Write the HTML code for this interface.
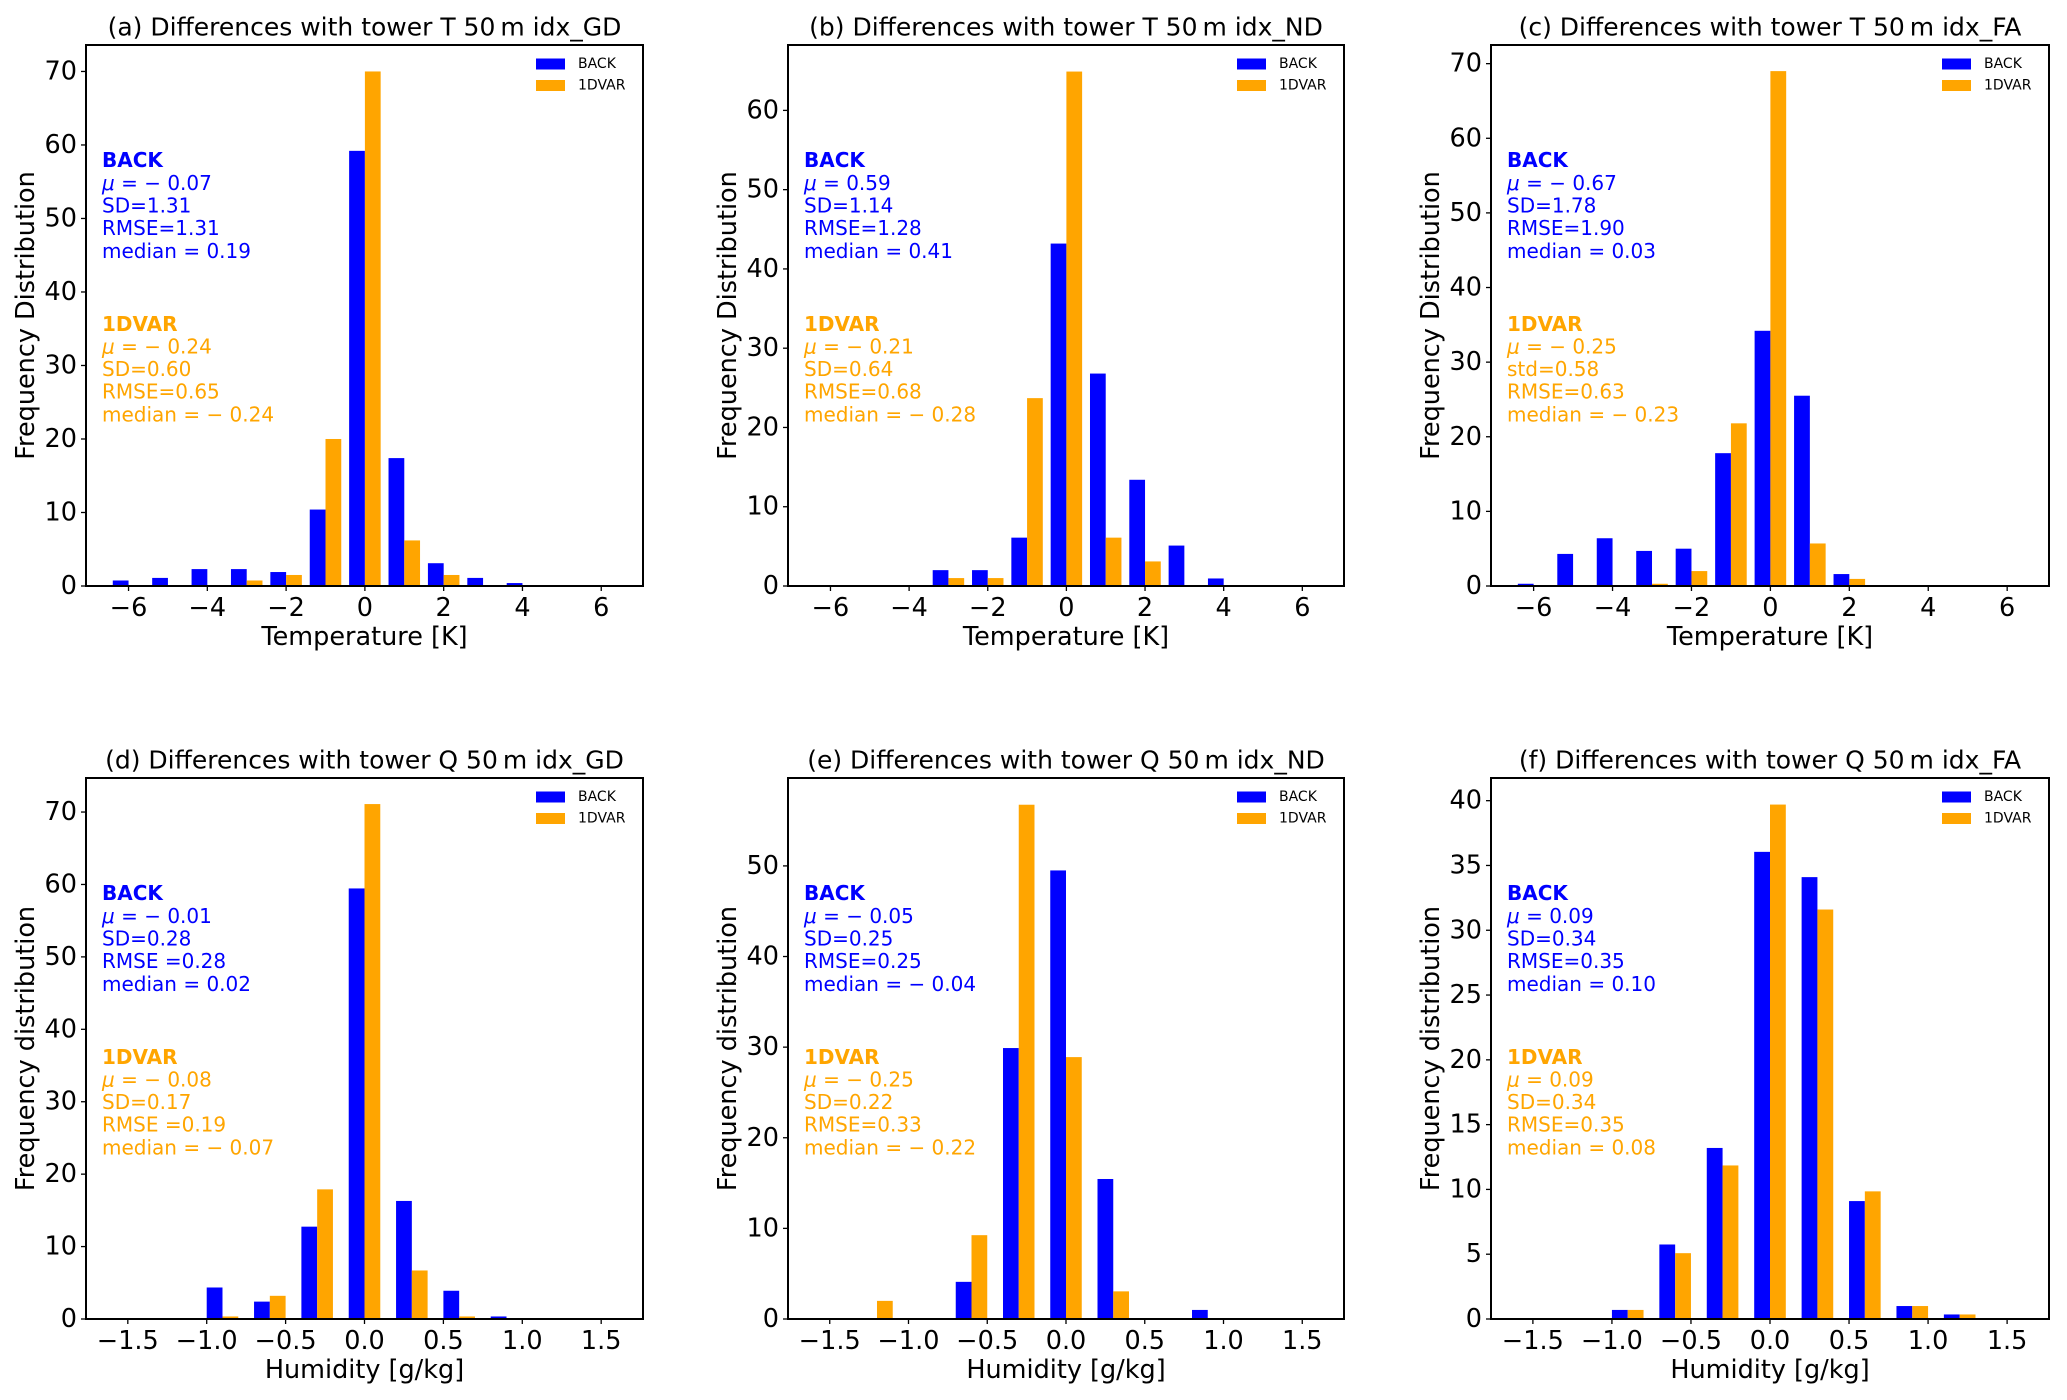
<!DOCTYPE html>
<html><head><meta charset="utf-8">
<style>
html,body{margin:0;padding:0;background:#fff;}
svg{display:block;font-family:"DejaVu Sans","Liberation Sans",sans-serif;}
</style></head>
<body>
<svg id="fig" width="2067" height="1400" viewBox="0 0 2067 1400" xmlns="http://www.w3.org/2000/svg"></svg>
<script>
// ---- Panel (a) T idx_GD ----
const aEdges = [-6,-5,-4,-3,-2,-1,0,1,2,3,4];
const aBack  = [0.75,1.1,2.3,2.3,1.9,10.4,59.2,17.4,3.1,1.1,0.4];
const aVar   = [0,0,0,0.75,1.5,20,70,6.2,1.5,0,0];
const aYTicks = [0,10,20,30,40,50,60,70];
// ---- Panel (b) T idx_ND ----
const bEdges = [-3,-2,-1,0,1,2,3,4];
const bBack  = [2.0,2.0,6.1,43.2,26.8,13.4,5.1,0.95];
const bVar   = [1.0,1.0,23.7,64.9,6.1,3.1,0,0];
const bYTicks = [0,10,20,30,40,50,60];
// ---- Panel (c) T idx_FA ----
const cEdges = [-6,-5,-4,-3,-2,-1,0,1,2];
const cBack  = [0.3,4.3,6.4,4.7,5.0,17.8,34.2,25.5,1.6];
const cVar   = [0,0,0,0.3,2.0,21.8,69,5.7,0.95];
const cYTicks = [0,10,20,30,40,50,60,70];
// ---- Panel (d) Q idx_GD ----
const dEdges = [-0.9,-0.6,-0.3,0,0.3,0.6,0.9];
const dBack  = [4.35,2.4,12.75,59.45,16.3,3.9,0.35];
const dVar   = [0.35,3.2,17.9,71.1,6.7,0.35,0];
const dYTicks = [0,10,20,30,40,50,60,70];
// ---- Panel (e) Q idx_ND ----
const eEdges = [-1.2,-0.9,-0.6,-0.3,0,0.3,0.6,0.9];
const eBack  = [0,0,4.1,29.9,49.5,15.45,0,1.0];
const eVar   = [2.0,0,9.25,56.75,28.9,3.05,0,0];
const eYTicks = [0,10,20,30,40,50];
// ---- Panel (f) Q idx_FA ----
const fEdges = [-0.9,-0.6,-0.3,0,0.3,0.6,0.9,1.2];
const fBack  = [0.7,5.75,13.2,36.05,34.1,9.1,1.0,0.35];
const fVar   = [0.7,5.08,11.85,39.7,31.6,9.85,1.0,0.35];
const fYTicks = [0,5,10,15,20,25,30,35,40];

const tXTicks = [-6,-4,-2,0,2,4,6];
const tXTickLabels = ["−6","−4","−2","0","2","4","6"];
const qXTicks = [-1.5,-1.0,-0.5,0,0.5,1.0,1.5];
const qXTickLabels = ["−1.5","−1.0","−0.5","0.0","0.5","1.0","1.5"];

const panels = [
 {id:"a",x0:86,x1:643,y0:45,y1:586,xmin:-7.08,xmax:7.06,ymax:73.6,w:0.4,edges:aEdges,back:aBack,v:aVar,yt:aYTicks,xt:tXTicks,xl:tXTickLabels,
  title:"(a) Differences with tower T 50\u2009m idx_GD",xlab:"Temperature [K]",ylab:"Frequency Distribution",
  bs:["μ = − 0.07","SD=1.31","RMSE=1.31","median = 0.19"],vs:["μ = − 0.24","SD=0.60","RMSE=0.65","median = − 0.24"]},
 {id:"b",x0:788,x1:1344,y0:45,y1:586,xmin:-7.08,xmax:7.06,ymax:68.25,w:0.4,edges:bEdges,back:bBack,v:bVar,yt:bYTicks,xt:tXTicks,xl:tXTickLabels,
  title:"(b) Differences with tower T 50\u2009m idx_ND",xlab:"Temperature [K]",ylab:"Frequency Distribution",
  bs:["μ = 0.59","SD=1.14","RMSE=1.28","median = 0.41"],vs:["μ = − 0.21","SD=0.64","RMSE=0.68","median = − 0.28"]},
 {id:"c",x0:1491,x1:2049,y0:45,y1:586,xmin:-7.08,xmax:7.06,ymax:72.5,w:0.4,edges:cEdges,back:cBack,v:cVar,yt:cYTicks,xt:tXTicks,xl:tXTickLabels,
  title:"(c) Differences with tower T 50\u2009m idx_FA",xlab:"Temperature [K]",ylab:"Frequency Distribution",
  bs:["μ = − 0.67","SD=1.78","RMSE=1.90","median = 0.03"],vs:["μ = − 0.25","std=0.58","RMSE=0.63","median = − 0.23"]},
 {id:"d",x0:86,x1:643,y0:778,y1:1319,xmin:-1.765,xmax:1.765,ymax:74.7,w:0.1,edges:dEdges,back:dBack,v:dVar,yt:dYTicks,xt:qXTicks,xl:qXTickLabels,
  title:"(d) Differences with tower Q 50\u2009m idx_GD",xlab:"Humidity [g/kg]",ylab:"Frequency distribution",
  bs:["μ = − 0.01","SD=0.28","RMSE =0.28","median = 0.02"],vs:["μ = − 0.08","SD=0.17","RMSE =0.19","median = − 0.07"]},
 {id:"e",x0:788,x1:1344,y0:778,y1:1319,xmin:-1.765,xmax:1.765,ymax:59.7,w:0.1,edges:eEdges,back:eBack,v:eVar,yt:eYTicks,xt:qXTicks,xl:qXTickLabels,
  title:"(e) Differences with tower Q 50\u2009m idx_ND",xlab:"Humidity [g/kg]",ylab:"Frequency distribution",
  bs:["μ = − 0.05","SD=0.25","RMSE=0.25","median = − 0.04"],vs:["μ = − 0.25","SD=0.22","RMSE=0.33","median = − 0.22"]},
 {id:"f",x0:1491,x1:2049,y0:778,y1:1319,xmin:-1.765,xmax:1.765,ymax:41.75,w:0.1,edges:fEdges,back:fBack,v:fVar,yt:fYTicks,xt:qXTicks,xl:qXTickLabels,
  title:"(f) Differences with tower Q 50\u2009m idx_FA",xlab:"Humidity [g/kg]",ylab:"Frequency distribution",
  bs:["μ = 0.09","SD=0.34","RMSE=0.35","median = 0.10"],vs:["μ = 0.09","SD=0.34","RMSE=0.35","median = 0.08"]}
];

const NS="http://www.w3.org/2000/svg";
const svg=document.getElementById("fig");
function mk(tag,attrs,parent){const e=document.createElementNS(NS,tag);for(const k in attrs)e.setAttribute(k,attrs[k]);(parent||svg).appendChild(e);return e;}
const BLUE="#0000ff",ORANGE="#ffa500";
const STAT_FS="20";

function statText(g,x,y,str,color,name){
  const t=mk("text",{x:x,y:y,"font-size":STAT_FS,fill:color,"dominant-baseline":"central"},g);
  
  
  if(str.charAt(0)==="μ"){
    const s1=mk("tspan",{"font-style":"italic"},t);s1.textContent="μ";
    const s2=mk("tspan",{},t);s2.textContent=str.slice(1);
  } else t.textContent=str;
}

panels.forEach(p=>{
  const g=mk("g",{});
  
  
  const X=v=>p.x0+(v-p.xmin)/(p.xmax-p.xmin)*(p.x1-p.x0);
  const Y=v=>p.y1-v/p.ymax*(p.y1-p.y0);
  p.edges.forEach((e,i)=>{
    if(p.back[i]>0){
      const r=mk("rect",{x:X(e-p.w),y:Y(p.back[i]),width:X(e)-X(e-p.w),height:p.y1-Y(p.back[i]),fill:BLUE},g);
      
      
    }
    if(p.v[i]>0){
      const r=mk("rect",{x:X(e),y:Y(p.v[i]),width:X(e+p.w)-X(e),height:p.y1-Y(p.v[i]),fill:ORANGE},g);
      
      
    }
  });
  const fr=mk("rect",{x:p.x0,y:p.y0,width:p.x1-p.x0,height:p.y1-p.y0,fill:"none",stroke:"#000","stroke-width":"2"},g);
  
  
  p.xt.forEach((v,i)=>{
    mk("line",{x1:X(v),x2:X(v),y1:p.y1,y2:p.y1+5,stroke:"#000","stroke-width":"1.3"},g);
    const t=mk("text",{x:X(v),y:p.y1+22,"font-size":"25.5","text-anchor":"middle","dominant-baseline":"central",fill:"#000"},g);
    
    
    t.textContent=p.xl[i];
  });
  p.yt.forEach(v=>{
    mk("line",{x1:p.x0-5,x2:p.x0,y1:Y(v),y2:Y(v),stroke:"#000","stroke-width":"1.3"},g);
    const t=mk("text",{x:p.x0-9,y:Y(v),"font-size":"25.5","text-anchor":"end","dominant-baseline":"central",fill:"#000"},g);
    
    
    t.textContent=String(v);
  });
  const tt=mk("text",{x:(p.x0+p.x1)/2,y:p.y0-18,"font-size":"25","text-anchor":"middle","dominant-baseline":"central",fill:"#000"},g);
  
  
  tt.textContent=p.title;
  const xl=mk("text",{x:(p.x0+p.x1)/2,y:p.y1+51,"font-size":"25.5","text-anchor":"middle","dominant-baseline":"central",fill:"#000"},g);
  
  
  xl.textContent=p.xlab;
  const cy=(p.y0+p.y1)/2, cx=p.x0-60;
  const yl=mk("text",{x:cx,y:cy,"font-size":"25.5","text-anchor":"middle","dominant-baseline":"central",fill:"#000",transform:"rotate(-90 "+cx+" "+cy+")"},g);
  
  
  yl.textContent=p.ylab;
  const lg=mk("g",{},g);
  
  
  [[BLUE,"BACK",19],[ORANGE,"1DVAR",40.5]].forEach(([c,l,dy])=>{
    mk("rect",{x:p.x1-107,y:p.y0+dy-5.5,width:29,height:11,fill:c},lg);
    const t=mk("text",{x:p.x1-65,y:p.y0+dy,"font-size":"14","dominant-baseline":"central",fill:"#000"},lg);
    
    
    t.textContent=l;
  });
  const sx=p.x0+16;
  const h1=mk("text",{x:sx,y:p.y0+115,"font-size":STAT_FS,"font-weight":"bold",fill:BLUE,"dominant-baseline":"central"},g);
  
  
  h1.textContent="BACK";
  p.bs.forEach((s,i)=>statText(g,sx,p.y0+138+i*22.6,s,BLUE,'back-stat'));
  const h2=mk("text",{x:sx,y:p.y0+279,"font-size":STAT_FS,"font-weight":"bold",fill:ORANGE,"dominant-baseline":"central"},g);
  
  
  h2.textContent="1DVAR";
  p.vs.forEach((s,i)=>statText(g,sx,p.y0+301.5+i*22.6,s,ORANGE,'1dvar-stat'));
});
</script>
</body></html>
